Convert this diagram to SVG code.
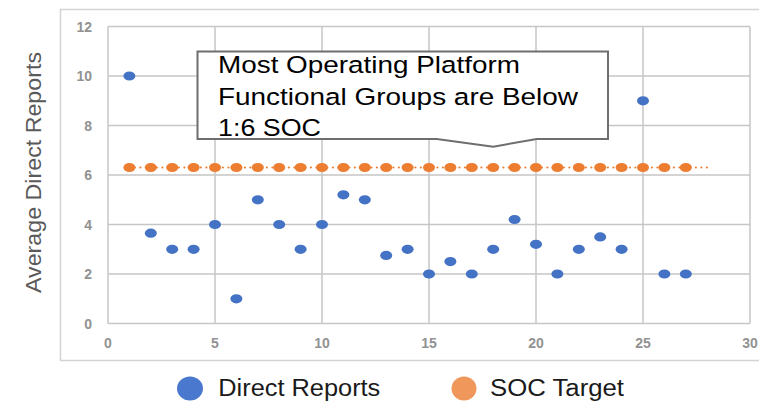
<svg xmlns="http://www.w3.org/2000/svg" width="759" height="401" viewBox="0 0 759 401">
<style>
.grid{stroke:#c6c6c6;stroke-width:1.5;fill:none}
.tick{font-family:"Liberation Sans",Arial,sans-serif;font-size:14px;font-weight:bold;fill:#929292}
.dr{fill:#4472c4}
.soc{fill:#ed7d31}
.call{font-family:"Liberation Sans",Arial,sans-serif;font-size:24.5px;fill:#000}
.leg{font-family:"Liberation Sans",Arial,sans-serif;font-size:23.5px;fill:#1a1a1a}
</style>
<defs>
<ellipse id="pt" cx="0" cy="0" rx="6" ry="4.6"/>
</defs>
<rect width="759" height="401" fill="#fff"/>
<g id="chart-frame">
<rect x="60.5" y="9.5" width="710" height="351" fill="#fff" stroke="#d4d4d4" stroke-width="1.5"/>
</g>
<g id="gridlines" class="grid">
<path d="M108 26.5H750M108 76H750M108 125.5H750M108 175H750M108 224.5H750M108 274H750M108 323.5H750"/>
<path d="M108 26.5V323.5M215 26.5V323.5M322 26.5V323.5M429 26.5V323.5M536 26.5V323.5M643 26.5V323.5M750 26.5V323.5"/>
</g>
<g id="y-ticks" class="tick" text-anchor="end">
<text x="92" y="31.5">12</text>
<text x="92" y="81">10</text>
<text x="92" y="130.5">8</text>
<text x="92" y="180">6</text>
<text x="92" y="229.5">4</text>
<text x="92" y="279">2</text>
<text x="92" y="328.5">0</text>
</g>
<g id="x-ticks" class="tick" text-anchor="middle">
<text x="108" y="347.5">0</text>
<text x="215" y="347.5">5</text>
<text x="322" y="347.5">10</text>
<text x="429" y="347.5">15</text>
<text x="536" y="347.5">20</text>
<text x="643" y="347.5">25</text>
<text x="750" y="347.5">30</text>
</g>
<g id="y-title">
<text x="41" y="172.5" transform="rotate(-90 41 172.5)" text-anchor="middle" font-family="'Liberation Sans',Arial,sans-serif" font-size="22.5" fill="#5a5a5a" textLength="241" lengthAdjust="spacingAndGlyphs">Average Direct Reports</text>
</g>
<g id="soc-target">
<line x1="129.4" y1="167.5" x2="708" y2="167.5" stroke="#ed7d31" stroke-width="2.2" stroke-linecap="round" stroke-dasharray="0 5.5"/>
<g class="soc">
<use href="#pt" x="129.4" y="167.5"/><use href="#pt" x="150.8" y="167.5"/><use href="#pt" x="172.2" y="167.5"/><use href="#pt" x="193.6" y="167.5"/><use href="#pt" x="215" y="167.5"/><use href="#pt" x="236.4" y="167.5"/><use href="#pt" x="257.8" y="167.5"/><use href="#pt" x="279.2" y="167.5"/><use href="#pt" x="300.6" y="167.5"/><use href="#pt" x="322" y="167.5"/><use href="#pt" x="343.4" y="167.5"/><use href="#pt" x="364.8" y="167.5"/><use href="#pt" x="386.2" y="167.5"/><use href="#pt" x="407.6" y="167.5"/><use href="#pt" x="429" y="167.5"/><use href="#pt" x="450.4" y="167.5"/><use href="#pt" x="471.8" y="167.5"/><use href="#pt" x="493.2" y="167.5"/><use href="#pt" x="514.6" y="167.5"/><use href="#pt" x="536" y="167.5"/><use href="#pt" x="557.4" y="167.5"/><use href="#pt" x="578.8" y="167.5"/><use href="#pt" x="600.2" y="167.5"/><use href="#pt" x="621.6" y="167.5"/><use href="#pt" x="643" y="167.5"/><use href="#pt" x="664.4" y="167.5"/><use href="#pt" x="685.8" y="167.5"/>
</g>
</g>
<g id="direct-reports" class="dr">
<use href="#pt" x="129.4" y="76"/>
<use href="#pt" x="150.8" y="233.2"/>
<use href="#pt" x="172.2" y="249.3"/>
<use href="#pt" x="193.6" y="249.3"/>
<use href="#pt" x="215" y="224.5"/>
<use href="#pt" x="236.4" y="298.8"/>
<use href="#pt" x="257.8" y="199.8"/>
<use href="#pt" x="279.2" y="224.5"/>
<use href="#pt" x="300.6" y="249.3"/>
<use href="#pt" x="322" y="224.5"/>
<use href="#pt" x="343.4" y="194.8"/>
<use href="#pt" x="364.8" y="199.8"/>
<use href="#pt" x="386.2" y="255.4"/>
<use href="#pt" x="407.6" y="249.3"/>
<use href="#pt" x="429" y="274"/>
<use href="#pt" x="450.4" y="261.6"/>
<use href="#pt" x="471.8" y="274"/>
<use href="#pt" x="493.2" y="249.3"/>
<use href="#pt" x="514.6" y="219.5"/>
<use href="#pt" x="536" y="244.3"/>
<use href="#pt" x="557.4" y="274"/>
<use href="#pt" x="578.8" y="249.3"/>
<use href="#pt" x="600.2" y="236.9"/>
<use href="#pt" x="621.6" y="249.3"/>
<use href="#pt" x="643" y="100.8"/>
<use href="#pt" x="664.4" y="274"/>
<use href="#pt" x="685.8" y="274"/>
</g>
<g id="callout">
<path d="M197.5 51.5H608V139H536.7L493.3 146.7L436.7 139H197.5Z" fill="#fff" stroke="#6e6e6e" stroke-width="2"/>
<text class="call" x="218" y="73" textLength="302" lengthAdjust="spacingAndGlyphs">Most Operating Platform</text>
<text class="call" x="218" y="104.5" textLength="360" lengthAdjust="spacingAndGlyphs">Functional Groups are Below</text>
<text class="call" x="218" y="136" textLength="103" lengthAdjust="spacingAndGlyphs">1:6 SOC</text>
</g>
<g id="legend">
<ellipse cx="190" cy="388.5" rx="13" ry="12" fill="#4a78cf"/>
<text class="leg" x="218.3" y="395.7" textLength="162" lengthAdjust="spacingAndGlyphs">Direct Reports</text>
<ellipse cx="464" cy="388.5" rx="12.5" ry="12" fill="#f0985c"/>
<text class="leg" x="490" y="395.7" textLength="134" lengthAdjust="spacingAndGlyphs">SOC Target</text>
</g>
</svg>
